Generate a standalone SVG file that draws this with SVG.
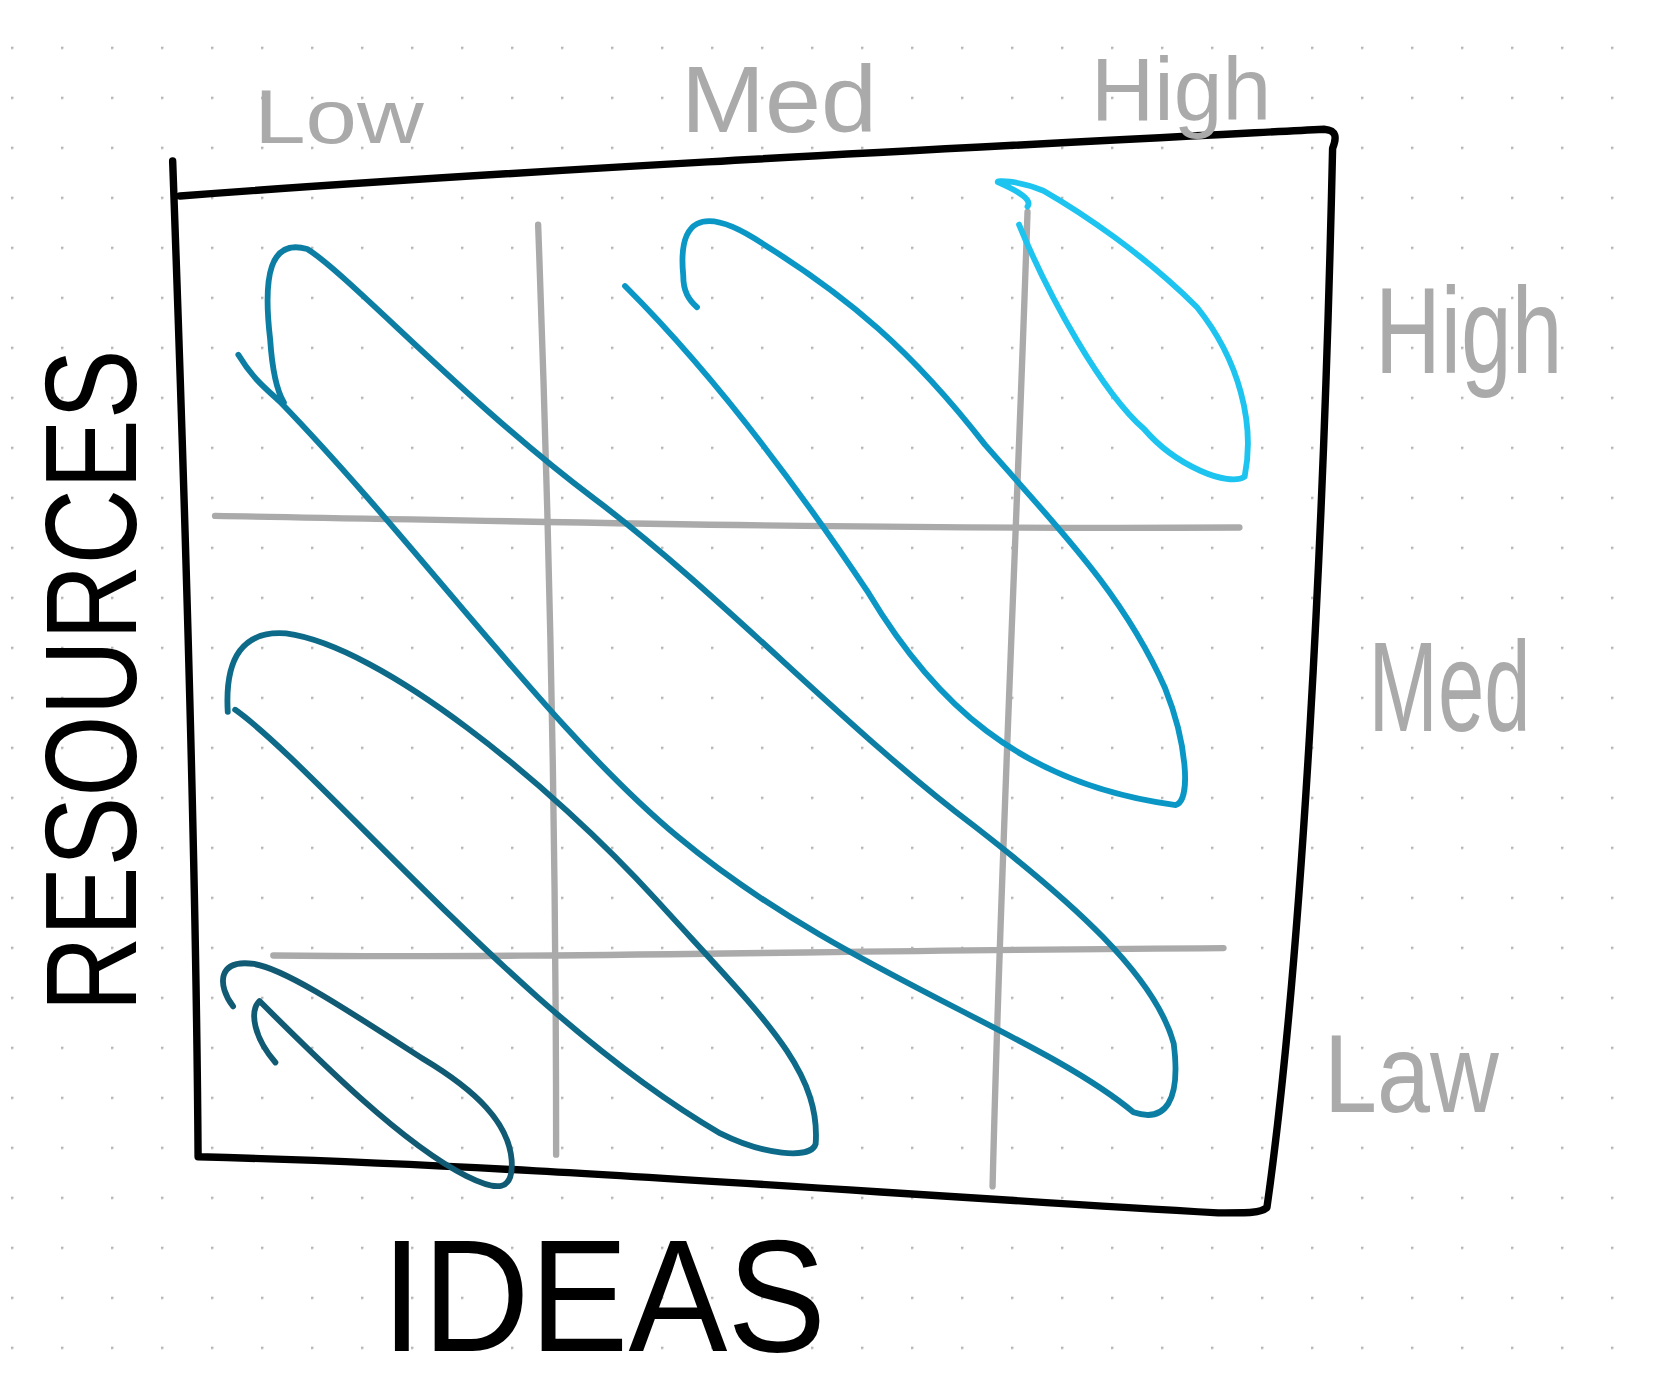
<svg xmlns="http://www.w3.org/2000/svg" width="1661" height="1392" viewBox="0 0 1661 1392">
<defs>
<pattern id="dots" x="11" y="46.7" width="50" height="50" patternUnits="userSpaceOnUse"><circle cx="1" cy="1" r="1.6" fill="#b5b5b5"/></pattern>
<style>
.s{fill:none;stroke-linecap:round;stroke-linejoin:round}
.g{stroke:#aaaaaa;stroke-width:6}
.b{stroke:#000;stroke-width:7}
.c{stroke-width:5.5}
.lbl{font-family:"Liberation Sans",Arial,sans-serif;fill:#aaaaaa}
.big{font-family:"Liberation Sans",Arial,sans-serif;fill:#000}
</style>
</defs>
<rect width="1661" height="1392" fill="#fff"/>
<rect width="1661" height="1392" fill="url(#dots)"/>
<g transform="scale(1.0593)">
<g id="grid">
<path class="s g" d="M508,212 C515,400 525,700 525,1090"/>
<path class="s g" d="M970,200 C960,500 945,800 937,1120"/>
<path class="s g" d="M203,487 C500,492 800,500 1170,498"/>
<path class="s g" d="M258,902 C500,905 800,897 1155,895"/>
</g>
<g id="frame">
<path class="s b" d="M170,185 C500,160 900,140 1250,122 C1262,123 1262,130 1258,140 C1250,500 1230,900 1196,1140 C1190,1145 1180,1145 1150,1145 C800,1125 500,1100 187,1092 C185,800 172,400 163,152"/>
</g>
<g id="scribble">
<path class="s c" stroke="#115a73" d="M260,1003 C240,980 235,955 245,945 C300,1000 380,1080 440,1110 C470,1125 485,1125 483,1095 C480,1060 450,1030 400,1000 C330,955 270,915 240,910 C205,905 205,930 220,950"/>
<path class="s c" stroke="#0d6a88" d="M215,672 C212,620 230,595 270,598 C360,610 520,740 620,850 C720,960 775,1010 770,1080 C765,1095 720,1090 680,1070 C560,1000 450,890 350,790 C290,730 250,690 222,670"/>
<path class="s c" stroke="#0c7ea3" d="M225,335 C240,360 255,370 265,380 C400,520 520,690 640,790 C790,915 980,975 1070,1050 C1100,1060 1115,1040 1108,985 C1090,920 1010,850 920,780 C800,690 680,560 560,470 C440,380 330,260 290,235 C255,225 248,260 255,320 C257,350 262,370 268,380"/>
<path class="s c" stroke="#0b97c6" d="M590,270 C680,360 760,470 820,560 C880,660 960,740 1110,760 C1125,755 1120,700 1100,650 C1060,560 1000,500 930,420 C860,330 800,280 720,230 C660,190 640,210 645,260 C645,275 650,283 658,290"/>
<path class="s c" stroke="#1cc4ef" d="M962,212 C990,280 1040,370 1080,405 C1110,440 1160,460 1175,450 C1185,400 1170,340 1130,290 C1080,240 1020,200 985,180 C960,170 940,170 942,172 C960,180 975,188 970,195"/>
</g>
<g id="labels">
<text class="lbl" x="240" y="135" font-size="72" textLength="160" lengthAdjust="spacingAndGlyphs">Low</text>
<text class="lbl" x="643" y="125" font-size="90" textLength="185" lengthAdjust="spacingAndGlyphs">Med</text>
<text class="lbl" x="1030" y="113" font-size="84" textLength="170" lengthAdjust="spacingAndGlyphs">High</text>
<text class="lbl" x="1298" y="352" font-size="115" textLength="177" lengthAdjust="spacingAndGlyphs">High</text>
<text class="lbl" x="1292" y="690" font-size="120" textLength="153" lengthAdjust="spacingAndGlyphs">Med</text>
<text class="lbl" x="1250" y="1050" font-size="105" textLength="165" lengthAdjust="spacingAndGlyphs">Law</text>
<text class="big" transform="translate(128,955) rotate(-90)" font-size="122" textLength="625" lengthAdjust="spacingAndGlyphs">RESOURCES</text>
<text class="big" x="360" y="1275" font-size="150" textLength="420" lengthAdjust="spacingAndGlyphs">IDEAS</text>
</g>
</g>
</svg>
